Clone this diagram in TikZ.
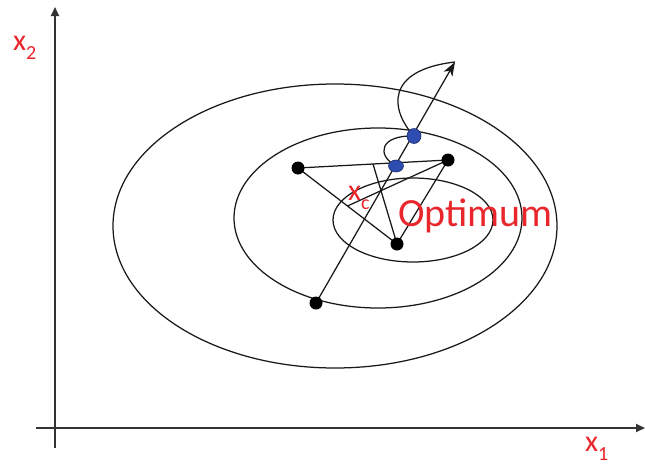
\documentclass[tikz,border=0pt]{standalone}
\usepackage{fontspec}
\setmainfont{Carlito}
\usepackage{tikz}
\usetikzlibrary{arrows.meta,calc,shapes.geometric,backgrounds}
\usepackage{xcolor}
\definecolor{LblRed}{HTML}{E8262B}
\definecolor{DotBlue}{HTML}{2F4CB0}
\definecolor{DotEdge}{HTML}{1B2A6A}
\definecolor{AxisGray}{HTML}{333333}
\newcommand{\sublbl}[2]{#1\raisebox{-0.3em}{\fontsize{20}{20}\selectfont #2}}
\tikzset{
  contour/.style={draw=black!90, line width=1.25pt},
  simplex/.style={draw=black!90, line width=1.25pt},
  axisline/.style={draw=AxisGray, line width=2pt, -{Triangle[length=9pt,width=8pt]}},
  vertexdot/.style={circle, fill=black, inner sep=0pt, minimum size=13pt},
  trialdot/.style={ellipse, fill=DotBlue, draw=DotEdge, line width=0.6pt, inner sep=0pt,
    minimum width=#1},
  trialdot/.default={14pt},
  lbl/.style={text=LblRed, inner sep=0pt, anchor=base west, font=\fontsize{30}{30}\selectfont},
}
\begin{document}
\begin{tikzpicture}[x=1pt,y=-1pt]
  \useasboundingbox (0,0) rectangle (646,464);

  % axes
  \coordinate (xfrom) at (36,428);
  \coordinate (xto)   at (645,428);
  \coordinate (yfrom) at (55,448);
  \coordinate (yto)   at (55,7);
  \draw[axisline] (xfrom) -- (xto);
  \draw[axisline] (yfrom) -- (yto);

  % level sets
  \draw[contour] (335,226) ellipse [x radius=222, y radius=142];
  \draw[contour] (378,218) ellipse [x radius=144, y radius=90];
  \draw[contour] (413,220) ellipse [x radius=80, y radius=42];

  % simplex vertices and trial points
  \node[vertexdot] (A) at (298,168) {};
  \node[vertexdot] (B) at (448,160) {};
  \node[vertexdot] (C) at (397,244) {};
  \node[vertexdot] (D) at (316,303) {};
  \node[trialdot, minimum height=15pt] (E) at (414,136) {};
  \node[trialdot=15pt, minimum height=12pt] (F) at (396,166) {};
  \coordinate (tip) at (455,62);
  \coordinate (mAB) at ($(A)!0.5!(B)$);
  \coordinate (mAC) at ($(A)!0.5!(C)$);

  \begin{scope}[on background layer]
    \draw[simplex] (A.center) -- (B.center) -- (C.center) -- cycle;
    \draw[simplex] (mAB) -- (C.center);
    \draw[simplex] (B.center) -- (mAC);
    \draw[simplex, -{Stealth[length=14pt,width=10pt,inset=4pt]}] (D.center) -- (tip);
    \draw[simplex] (E.center) .. controls (390,110) and (385,70) .. (tip);
    \draw[simplex] (F.center) .. controls (376,155) and (380,135) .. (E.center);
  \end{scope}

  % labels
  \node[lbl] (lx2) at (13,50) {\sublbl{x}{2}};
  \node[lbl] (lx1) at (585,451) {\sublbl{x}{1}};
  \node[lbl] (lxc) at (348,200) {\sublbl{x}{c}};
  \node[lbl, font=\fontsize{40}{40}\selectfont] (opt) at (398,226) {Optimum};
\end{tikzpicture}
\end{document}
